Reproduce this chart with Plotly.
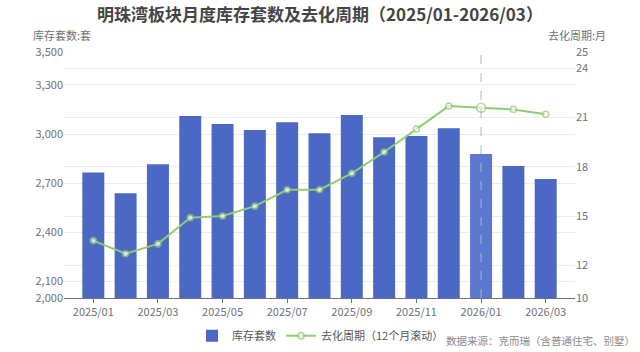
import plotly.graph_objects as go

months = ["2025/01", "2025/02", "2025/03", "2025/04", "2025/05", "2025/06", "2025/07",
          "2025/08", "2025/09", "2025/10", "2025/11", "2025/12", "2026/01", "2026/02", "2026/03"]
inventory = [2765, 2638, 2815, 3110, 3061, 3024, 3071, 3004, 3116, 2980, 2988, 3035, 2878, 2805, 2726]
cycle = [13.5, 12.7, 13.3, 14.9, 15.0, 15.6, 16.6, 16.6, 17.6, 18.9, 20.3, 21.7, 21.6, 21.5, 21.2]
left_ticks = [2000, 2100, 2400, 2700, 3000, 3300, 3500]
right_ticks = [10, 12, 15, 18, 21, 24, 25]
x_ticks = months[::2]
highlight = "2026/01"

FONT = "Noto Sans CJK SC, Microsoft YaHei, sans-serif"
BAR = "#4b68c4"
BAR_HI = "#5a78d0"
GREEN = "#91cc75"

bar_colors = [BAR_HI if m == highlight else BAR for m in months]
marker_sizes = [9 if m == highlight else 6 for m in months]

fig = go.Figure()
fig.add_trace(go.Bar(
    x=months, y=inventory, name="库存套数", marker=dict(color=bar_colors, line=dict(width=0)),
    yaxis="y", width=0.68,
))
fig.add_trace(go.Scatter(
    x=months, y=cycle, name="去化周期（12个月滚动）", yaxis="y2", mode="lines+markers",
    line=dict(color=GREEN, width=2),
    marker=dict(size=marker_sizes, color="white", line=dict(color=GREEN, width=1.6)),
))

fig.add_shape(type="line", xref="x", yref="paper", x0=highlight, x1=highlight, y0=0, y1=1,
              line=dict(color="#b0b4bd", width=1, dash="dash"), layer="above")

fig.update_layout(
    width=640, height=352,
    margin=dict(l=64, r=65, t=52, b=54, autoexpand=False),
    paper_bgcolor="white", plot_bgcolor="white",
    font=dict(family=FONT, size=11, color="#6e7079"),
    title=dict(text="<b>明珠湾板块月度库存套数及去化周期（2025/01-2026/03）</b>", x=0.5, xanchor="center",
               y=0.975, yanchor="top", font=dict(size=17, color="#444444", family=FONT)),
    bargap=0.32,
    showlegend=True,
    legend=dict(orientation="h", xref="container", yref="container", x=0.3, xanchor="left",
                y=0.005, yanchor="bottom",
                font=dict(size=11, color="#555555"), itemwidth=30, traceorder="normal"),
    xaxis=dict(type="category", tickvals=x_ticks, ticktext=x_ticks, showgrid=False,
               showline=True, linecolor="#6e7079", ticks="outside", ticklen=4, tickcolor="#6e7079",
               tickfont=dict(size=11, color="#6e7079")),
    yaxis=dict(range=[2000, 3500], tickvals=left_ticks, tickformat=",", showgrid=True,
               gridcolor="#ececec", zeroline=False, showline=False, tickfont=dict(size=11, color="#6e7079")),
    yaxis2=dict(range=[10, 25], tickvals=right_ticks, overlaying="y", side="right", showgrid=True,
                gridcolor="#ececec", zeroline=False, showline=False, tickfont=dict(size=11, color="#6e7079")),
    annotations=[
        dict(text="库存套数:套", xref="paper", yref="paper", x=-0.065, y=1.03, xanchor="left",
             yanchor="bottom", showarrow=False, font=dict(size=11, color="#6e7079")),
        dict(text="去化周期:月", xref="paper", yref="paper", x=1.065, y=1.03, xanchor="right",
             yanchor="bottom", showarrow=False, font=dict(size=11, color="#6e7079")),
        dict(text="数据来源：克而瑞（含普通住宅、别墅）", xref="paper", yref="paper", x=1.122, y=-0.171,
             xanchor="right", yanchor="middle", showarrow=False, font=dict(size=10.5, color="#8a8a8a")),
    ],
)

fig.write_html("out.html")
